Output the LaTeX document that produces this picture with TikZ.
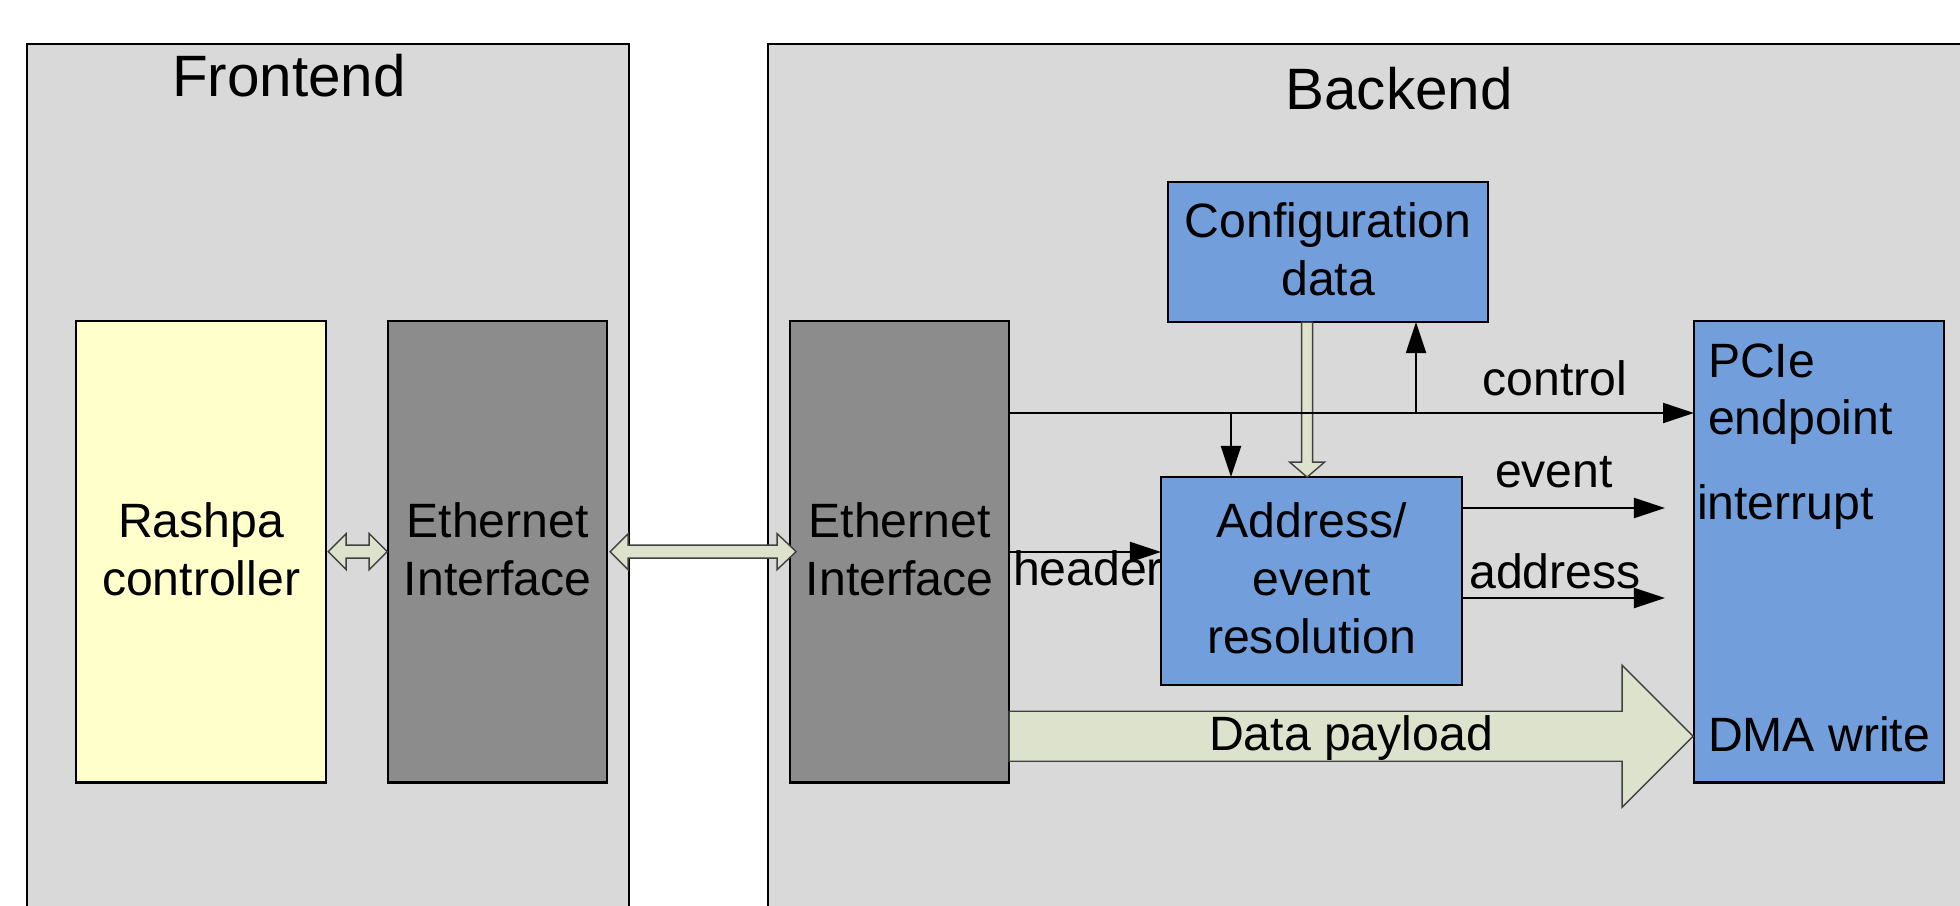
\documentclass[tikz,border=0pt]{standalone}
\usepackage{fontspec}
\setmainfont{Liberation Sans}
\usetikzlibrary{arrows.meta}
\definecolor{panel}{RGB}{217,217,217}
\definecolor{ctrlyellow}{RGB}{255,255,204}
\definecolor{ethgray}{RGB}{140,140,140}
\definecolor{blockblue}{RGB}{114,159,220}
\definecolor{pipegreen}{RGB}{221,226,204}
\begin{document}
\begin{tikzpicture}[x=0.01cm, y=-0.01cm,
  every node/.style={font=\fontsize{13.7}{16.5}\selectfont, inner sep=0pt, outer sep=0pt},
  panelbox/.style={draw=black, line width=0.6pt, fill=panel},
  title/.style={font=\fontsize{16.6}{19}\selectfont, anchor=base},
  blk/.style={draw=black, line width=0.7pt, align=center, anchor=north west, text depth=0.06cm},
  sig/.style={draw=black, line width=0.6pt, -{Triangle[length=0.31cm,width=0.2cm]}},
  pipe/.style={draw=black!75, line width=0.4pt, fill=pipegreen},
  lbl/.style={anchor=base},
  pcielbl/.style={anchor=base west}
]
\useasboundingbox (0,0) rectangle (1960,906);

% the two halves of the system, running off the page at the bottom and right
\begin{scope}
  \clip (0,0) rectangle (1960,906);
  \draw[panelbox] (27,44) rectangle (629,940);
  \draw[panelbox] (768,44) rectangle (1990,940);
\end{scope}
\node[title] (frontT) at (289,96) {Frontend};
\node[title] (backT) at (1399,109) {Backend};

% functional blocks
\node[blk, fill=ctrlyellow, minimum width=2.50cm, minimum height=4.61cm] (rashpa) at (76,321) {Rashpa\\controller};
\node[blk, fill=ethgray, minimum width=2.19cm, minimum height=4.61cm] (ethF) at (388,321) {Ethernet\\Interface};
\node[blk, fill=ethgray, minimum width=2.19cm, minimum height=4.61cm] (ethB) at (790,321) {Ethernet\\Interface};
\node[blk, fill=blockblue, minimum width=3.20cm, minimum height=1.40cm] (config) at (1168,182) {Configuration\\data};
\node[blk, fill=blockblue, minimum width=3.01cm, minimum height=2.08cm] (addr) at (1161,477) {Address/\\event\\resolution};
\node[blk, fill=blockblue, minimum width=2.50cm, minimum height=4.61cm] (pcie) at (1694,321) {};
\node[pcielbl] (pcieA) at (1708,377) {PCIe};
\node[pcielbl] (pcieB) at (1708,434) {endpoint};
\node[pcielbl] (pcieC) at (1697,519) {interrupt};
\node[pcielbl] (pcieD) at (1708,751) {DMA write};

% wide hollow arrows
\draw[pipe] (rashpa.east) ++(2,0) -- ++(18,-18) -- ++(0,11.5) -- ++(23,0) -- ++(0,-11.5)
  -- ++(18,18) -- ++(-18,18) -- ++(0,-11.5) -- ++(-23,0) -- ++(0,11.5) -- cycle;
\draw[pipe] (ethF.east) ++(3,0) -- ++(18,-18) -- ++(0,11.5) -- ++(149,0) -- ++(0,-11.5)
  -- ++(19,18) -- ++(-19,18) -- ++(0,-11.5) -- ++(-149,0) -- ++(0,11.5) -- cycle;
\draw[pipe] (config.south) ++(-26.5,0) -- ++(0,140) -- ++(-12,0) -- ++(17.5,15)
  -- ++(17.5,-15) -- ++(-12,0) -- ++(0,-140) -- cycle;
\draw[pipe] (ethB.south east) ++(0,-46.5) -- ++(0,-24.5) -- ++(613,0) -- ++(0,-46)
  -- ++(71,71) -- ++(-71,71) -- ++(0,-46) -- ++(-613,0) -- cycle;
\node[lbl] (payload) at (1351,750) {Data payload};

% signal lines
\coordinate (rowCtl) at (0,413);
\coordinate (rowHdr) at (0,552);
\coordinate (jAddr) at (1231,413);
\coordinate (jCfg) at (1416,413);
\coordinate (evtEnd) at (1665,508);
\coordinate (adrEnd) at (1665,598);
\draw[sig] (ethB.east |- rowCtl) -- (pcie.west |- rowCtl);
\draw[sig] (jAddr) -- (jAddr |- addr.north);
\draw[sig] (jCfg) -- (jCfg |- config.south);
\draw[sig] (ethB.east |- rowHdr) -- (addr.west |- rowHdr);
\draw[sig] (addr.east |- evtEnd) -- (evtEnd);
\draw[sig] (addr.east |- adrEnd) -- (adrEnd);

\node[lbl] (ctlT) at (1555,395) {control};
\node[lbl] (evtT) at (1554,487) {event};
\node[lbl] (adrT) at (1555,588) {address};
\node[lbl] (hdrT) at (1088,585) {header};
\end{tikzpicture}
\end{document}
